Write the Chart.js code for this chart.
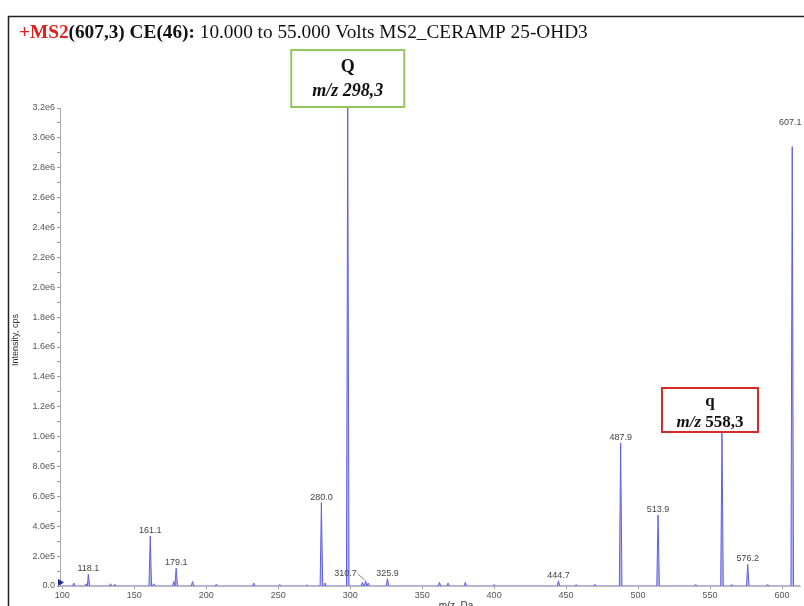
<!DOCTYPE html>
<html>
<head>
<meta charset="utf-8">
<script src="https://cdn.jsdelivr.net/npm/chart.js@4/dist/chart.umd.min.js"></script>
<style>
  html, body { margin: 0; padding: 0; background: #fff; }
  canvas { display: block; }
</style>
</head>
<body>
<canvas id="spectrum" width="804" height="606"></canvas>
<script>
// Product ion scan of m/z 607,3 (CE 46 V)
const scanRange = [98.4, 612.5];           // m/z span of the acquisition
const peakMz = [108.0, 116.5, 118.1, 133.5, 136.5, 161.1, 163.5, 177.5, 179.1, 190.5,
                207.0, 233.0, 251.0, 270.0, 280.0, 282.5, 298.3, 308.5, 310.7, 312.5,
                325.9, 362.0, 368.0, 380.0, 400.0, 444.7, 457.0, 470.0, 487.9, 513.9,
                540.0, 558.3, 565.0, 576.2, 590.0, 607.1];
const peakIntensity = [2.0e4, 1.5e4, 8.0e4, 1.5e4, 1.2e4, 3.37e5, 1.5e4, 3.0e4, 1.2e5, 3.0e4,
                       1.2e4, 2.0e4, 1.0e4, 8.0e3, 5.62e5, 2.0e4, 3.22e6, 2.5e4, 3.5e4, 2.0e4,
                       5.0e4, 2.5e4, 2.0e4, 2.5e4, 1.0e4, 3.5e4, 1.0e4, 1.2e4, 9.64e5, 4.78e5,
                       1.0e4, 1.03e6, 1.0e4, 1.45e5, 1.0e4, 2.96e6];
const labeledMz = [118.1, 161.1, 179.1, 280.0, 310.7, 325.9, 444.7, 487.9, 513.9, 576.2, 607.1];
const xTicks = [100, 150, 200, 250, 300, 350, 400, 450, 500, 550, 600];
const yMax = 3.22e6;
const yTickStep = 1e5;
const yLabelStep = 2e5;
const titleParts = [
  { text: '+MS2', color: '#e0201c', weight: 'bold' },
  { text: '(607,3) CE(46):', color: '#111', weight: 'bold' },
  { text: ' 10.000 to 55.000 Volts MS2_CERAMP 25-OHD3', color: '#111', weight: 'normal' }
];
const transitions = [
  { name: 'Q', mzText: '298,3', mz: 298.3 },
  { name: 'q', mzText: '558,3', mz: 558.3 }
];

// Each centroid is drawn as a narrow triangular profile on the baseline
const halfWidth = 0.9;
const profile = [{ x: scanRange[0], y: 0 }];
peakMz.forEach((mz, i) => {
  profile.push({ x: mz - halfWidth, y: 0 }, { x: mz, y: peakIntensity[i] }, { x: mz + halfWidth, y: 0 });
});
profile.push({ x: scanRange[1], y: 0 });

const SERIF = '"Liberation Serif", "Times New Roman", serif';
const SANS = '"Liberation Sans", Arial, sans-serif';

// Label placement tweaks (pixels) for crowded or tall peaks
const labelShift = { 310.7: { dx: -20, dy: -2, leader: true }, 607.1: { dx: -2, dy: -19 } };

function sciLabel(k) {
  if (k === 0) return '0.0';
  const v = k * yTickStep;
  const e = String(Math.round(v)).length - 1;
  const m = Math.round(v / Math.pow(10, e - 1)) / 10;
  return m.toFixed(1) + 'e' + e;
}

const decorations = {
  id: 'decorations',
  afterDraw(chart) {
    const ctx = chart.ctx;
    const xs = chart.scales.x, ys = chart.scales.y;
    const area = chart.chartArea;
    ctx.save();

    // outer frame
    ctx.strokeStyle = '#222';
    ctx.lineWidth = 1.5;
    ctx.beginPath();
    ctx.moveTo(8.5, 606);
    ctx.lineTo(8.5, 16.5);
    ctx.lineTo(804, 16.5);
    ctx.stroke();

    // title
    let tx = 19;
    ctx.textBaseline = 'alphabetic';
    ctx.textAlign = 'left';
    titleParts.forEach(p => {
      ctx.font = p.weight + ' 19.3px ' + SERIF;
      ctx.fillStyle = p.color;
      ctx.fillText(p.text, tx, 38);
      tx += ctx.measureText(p.text).width;
    });

    // axis titles
    ctx.fillStyle = '#333';
    ctx.font = '9px ' + SANS;
    ctx.save();
    ctx.translate(15.5, 340);
    ctx.rotate(-Math.PI / 2);
    ctx.textAlign = 'center';
    ctx.textBaseline = 'middle';
    ctx.fillText('Intensity, cps', 0, 0);
    ctx.restore();
    ctx.font = '10px ' + SANS;
    ctx.textAlign = 'center';
    ctx.textBaseline = 'top';
    ctx.fillText('m/z, Da', 456, 601);

    // zero-level marker on the intensity axis
    const y0 = ys.getPixelForValue(0);
    ctx.fillStyle = '#1a2a9a';
    ctx.beginPath();
    ctx.moveTo(area.left - 2, y0 - 7);
    ctx.lineTo(area.left + 4, y0 - 3.5);
    ctx.lineTo(area.left - 2, y0);
    ctx.closePath();
    ctx.fill();

    // peak labels
    ctx.font = '9px ' + SANS;
    ctx.fillStyle = '#444';
    ctx.textAlign = 'center';
    ctx.textBaseline = 'alphabetic';
    labeledMz.forEach(mz => {
      const i = peakMz.indexOf(mz);
      const px = xs.getPixelForValue(mz);
      const py = ys.getPixelForValue(peakIntensity[i]);
      const s = labelShift[mz] || { dx: 0, dy: 0 };
      const lx = px + s.dx, ly = py - 3 + s.dy;
      ctx.fillText(mz.toFixed(1), lx, ly);
      if (s.leader) {
        ctx.strokeStyle = '#666';
        ctx.lineWidth = 0.8;
        ctx.beginPath();
        ctx.moveTo(lx + 12, ly - 2);
        ctx.lineTo(px - 1, py - 1);
        ctx.stroke();
      }
    });

    // transition boxes
    const boxes = [
      { t: transitions[0], cx: xs.getPixelForValue(transitions[0].mz), top: 50, w: 113, h: 57, color: '#93c75e', italicNumber: true, l1: 67, l2: 91, size: 18 },
      { t: transitions[1], cx: xs.getPixelForValue(transitions[1].mz) - 12, top: 388, w: 96, h: 44, color: '#d42a2a', italicNumber: false, l1: 402, l2: 423, size: 17 }
    ];
    boxes.forEach(b => {
      const left = b.cx - b.w / 2;
      ctx.fillStyle = '#fff';
      ctx.fillRect(left, b.top, b.w, b.h);
      ctx.strokeStyle = b.color;
      ctx.lineWidth = 2;
      ctx.strokeRect(left, b.top, b.w, b.h);
      ctx.fillStyle = '#111';
      ctx.textAlign = 'center';
      ctx.textBaseline = 'middle';
      ctx.font = 'bold ' + b.size + 'px ' + SERIF;
      ctx.fillText(b.t.name, b.cx, b.l1);
      const a = 'm/z ', n = b.t.mzText;
      const fa = 'italic bold ' + b.size + 'px ' + SERIF;
      const fn = (b.italicNumber ? 'italic ' : '') + 'bold ' + b.size + 'px ' + SERIF;
      ctx.font = fa; const wa = ctx.measureText(a).width;
      ctx.font = fn; const wn = ctx.measureText(n).width;
      const sx = b.cx - (wa + wn) / 2;
      ctx.textAlign = 'left';
      ctx.font = fa; ctx.fillText(a, sx, b.l2);
      ctx.font = fn; ctx.fillText(n, sx + wa, b.l2);
    });

    ctx.restore();
  }
};

new Chart(document.getElementById('spectrum'), {
  type: 'line',
  data: {
    datasets: [{
      data: profile,
      borderColor: 'rgb(96,96,226)',
      backgroundColor: 'rgba(96,96,226,0.45)',
      borderWidth: 1,
      fill: 'origin',
      pointRadius: 0,
      tension: 0
    }]
  },
  plugins: [decorations],
  options: {
    responsive: false,
    animation: false,
    events: [],
    layout: { padding: { top: 108, right: 4, left: 0, bottom: 0 } },
    plugins: { legend: { display: false }, tooltip: { enabled: false } },
    scales: {
      x: {
        type: 'linear',
        min: scanRange[0],
        max: scanRange[1],
        afterFit(s) { s.height = 20; },
        afterBuildTicks(s) { s.ticks = xTicks.map(v => ({ value: v })); },
        ticks: { font: { family: SANS, size: 9 }, color: '#555', padding: 1, maxRotation: 0, autoSkip: false },
        grid: { display: true, drawOnChartArea: false, drawTicks: true, tickLength: 3, color: '#999' },
        border: { display: true, color: '#bbb' }
      },
      y: {
        min: 0,
        max: yMax,
        afterFit(s) { s.width = 60; },
        ticks: {
          stepSize: yTickStep,
          includeBounds: false,
          autoSkip: false,
          font: { family: SANS, size: 9 },
          color: '#555',
          padding: 2,
          callback(v) {
            const k = Math.round(v / yTickStep);
            if (k % Math.round(yLabelStep / yTickStep) !== 0) return '';
            return sciLabel(k);
          }
        },
        grid: { display: true, drawOnChartArea: false, drawTicks: true, tickLength: 3, color: '#999' },
        border: { display: true, color: '#aaa' }
      }
    }
  }
});
</script>
</body>
</html>
